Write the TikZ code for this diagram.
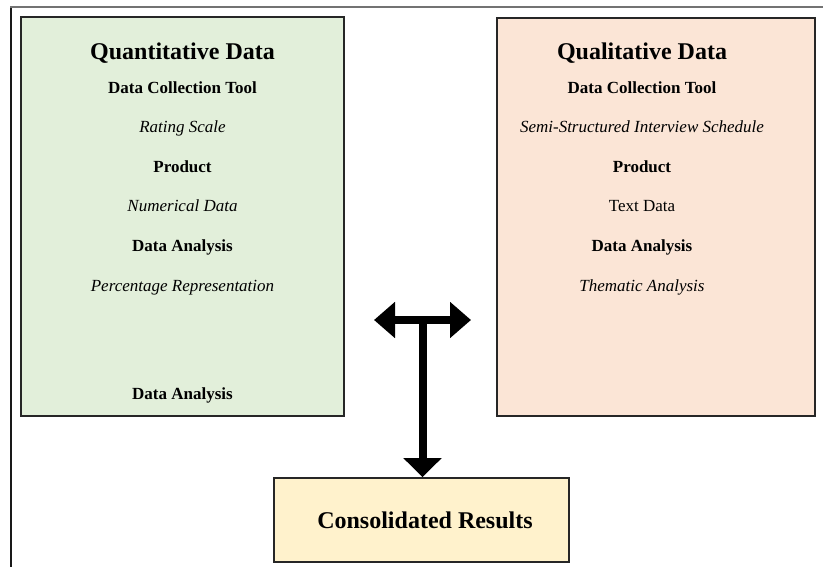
\documentclass[tikz,border=0pt]{standalone}
\usepackage{fontspec}
\setmainfont{Liberation Serif}
\usetikzlibrary{arrows.meta}
\definecolor{quantfill}{HTML}{E2EFDA}
\definecolor{qualfill}{HTML}{FBE5D6}
\definecolor{resfill}{HTML}{FFF2CC}
\tikzset{
  panel/.style={draw=black!85, line width=1.6pt, inner sep=0pt},
  heading/.style={anchor=base, font=\fontsize{24}{28}\selectfont\bfseries},
  label/.style={anchor=base, font=\fontsize{17}{20}\selectfont\bfseries},
  entry/.style={anchor=base, font=\fontsize{17}{20}\selectfont\itshape},
  plain/.style={anchor=base, font=\fontsize{17}{20}\selectfont},
  bigarrow/.style={line width=8pt, black},
}
\begin{document}
\begin{tikzpicture}[x=1pt, y=-1pt]
  \useasboundingbox (0,0) rectangle (823,567);
  % outer frame lines
  \draw[line width=2pt, black!55] (10,7) -- (823,7);
  \draw[line width=1.5pt, black!90] (11,8) -- (11,567);

  % panels
  \node[panel, fill=quantfill, minimum width=323pt, minimum height=399pt] (quant) at (182.5,216.5) {};
  \node[panel, fill=qualfill, minimum width=318pt, minimum height=398pt] (qual) at (656,217) {};
  \node[panel, fill=resfill, minimum width=295pt, minimum height=84pt] (res) at (421.5,520) {};

  % quantitative column
  \node[heading] (qnt0) at (182.5,60) {Quantitative Data};
  \node[label]   (qnt1) at (182.5,93.5) {Data Collection Tool};
  \node[entry]   (qnt2) at (182.5,133) {Rating Scale};
  \node[label]   (qnt3) at (182.5,172.5) {Product};
  \node[entry]   (qnt4) at (182.5,212) {Numerical Data};
  \node[label]   (qnt5) at (182.5,251.5) {Data Analysis};
  \node[entry]   (qnt6) at (182.5,291) {Percentage Representation};
  \node[label]   (qnt7) at (182.5,399.5) {Data Analysis};

  % qualitative column
  \node[heading] (qlt0) at (642,60) {Qualitative Data};
  \node[label]   (qlt1) at (642,93.5) {Data Collection Tool};
  \node[entry]   (qlt2) at (642,133) {Semi-Structured Interview Schedule};
  \node[label]   (qlt3) at (642,172.5) {Product};
  \node[plain]   (qlt4) at (642,212) {Text Data};
  \node[label]   (qlt5) at (642,251.5) {Data Analysis};
  \node[entry]   (qlt6) at (642,291) {Thematic Analysis};

  % result
  \node[heading] (restext) at (425,528.3) {Consolidated Results};

  % connectors
  \coordinate (lend) at (374,320);
  \coordinate (rend) at (471,320);
  \coordinate (join) at (422.5,320);
  \draw[bigarrow, {Triangle[length=21pt,width=35pt]}-{Triangle[length=21pt,width=35pt]}] (lend) -- (rend);
  \draw[bigarrow, -{Triangle[length=19pt,width=37pt]}] (join) -- (join |- res.north);
\end{tikzpicture}
\end{document}
